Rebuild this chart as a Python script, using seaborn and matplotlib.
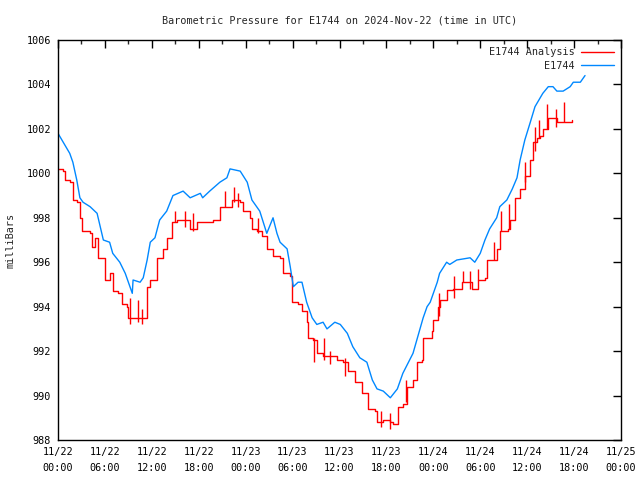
import pandas as pd
import matplotlib
matplotlib.use("Agg")
import matplotlib.pyplot as plt
import seaborn as sns

# hours since 2024-11-22 00:00 UTC
obs_hours = [0.0, 1.5, 1.9, 2.4, 2.8, 3.2, 4.1, 5.0, 5.4, 5.8, 6.6, 7.0, 7.9, 8.6, 9.0, 9.5,
             9.6, 10.5, 10.9, 11.4, 11.8, 12.4, 13.0, 13.9, 14.7, 16.0, 16.9, 18.2, 18.5, 19.4,
             20.7, 21.6, 22.0, 23.3, 24.2, 24.8, 25.8, 26.7, 27.5, 28.0, 28.4, 29.3, 29.7, 30.1,
             30.7, 31.2, 31.8, 32.5, 33.1, 33.9, 34.4, 35.4, 36.1, 37.0, 37.7, 38.6, 39.5, 40.2,
             40.8, 41.6, 42.5, 43.4, 44.1, 45.4, 46.7, 47.2, 47.6, 48.5, 48.8, 49.7, 50.1, 51.0,
             52.7, 53.3, 54.0, 54.6, 55.2, 56.1, 56.5, 57.4, 58.1, 58.7, 59.1, 59.7, 60.4, 61.0,
             62.0, 62.7, 63.3, 63.8, 64.6, 65.5, 65.9, 66.8, 67.4]
obs_mb = [1001.8, 1000.9, 1000.5, 999.7, 998.9, 998.7, 998.5, 998.2, 997.6, 997.0, 996.9, 996.4,
          996.0, 995.5, 995.1, 994.6, 995.2, 995.1, 995.3, 996.1, 996.9, 997.1, 997.9, 998.3,
          999.0, 999.2, 998.9, 999.1, 998.9, 999.2, 999.6, 999.8, 1000.2, 1000.1, 999.6, 998.8,
          998.3, 997.3, 998.0, 997.3, 996.9, 996.6, 995.8, 994.9, 995.1, 995.1, 994.2, 993.5,
          993.2, 993.3, 993.0, 993.3, 993.2, 992.8, 992.2, 991.7, 991.5, 990.7, 990.3, 990.2,
          989.9, 990.3, 991.0, 991.9, 993.5, 994.0, 994.2, 995.1, 995.5, 996.0, 995.9, 996.1,
          996.2, 996.0, 996.4, 997.0, 997.5, 998.0, 998.5, 998.8, 999.3, 999.8, 1000.6, 1001.5,
          1002.3, 1003.0, 1003.6, 1003.9, 1003.9, 1003.7, 1003.7, 1003.9, 1004.1, 1004.1, 1004.4]

ana_hours = [0.0, 0.6, 0.9, 1.5, 1.9, 2.4, 2.8, 3.1, 4.1, 4.3, 4.7, 5.1, 5.6, 6.0, 6.6, 7.0,
             7.7, 8.2, 8.8, 9.0, 10.1, 10.5, 11.4, 11.8, 12.7, 13.4, 13.9, 14.6, 15.2, 16.0,
             16.9, 17.8, 19.1, 19.8, 20.7, 21.6, 22.3, 23.3, 23.7, 24.6, 24.8, 25.4, 26.1, 26.7,
             27.5, 28.4, 28.8, 29.7, 29.9, 30.7, 31.2, 31.8, 32.0, 32.6, 33.1, 33.9, 34.8, 35.7,
             36.4, 37.1, 38.0, 38.9, 39.6, 40.5, 40.8, 41.6, 42.5, 42.8, 43.5, 44.1, 44.6, 45.4,
             45.9, 46.5, 46.7, 47.8, 48.0, 48.6, 48.8, 49.7, 50.5, 51.7, 52.9, 53.7, 54.6, 54.9,
             55.6, 56.1, 56.5, 57.5, 57.8, 58.4, 59.1, 59.7, 60.4, 60.7, 61.3, 61.6, 62.0, 62.7,
             63.3, 63.8, 65.1, 65.7]
ana_mb = [1000.2, 1000.1, 999.7, 999.6, 998.8, 998.7, 998.0, 997.4, 997.3, 996.7, 997.1, 996.2,
          996.2, 995.2, 995.5, 994.7, 994.6, 994.1, 994.0, 993.5, 993.5, 993.5, 994.9, 995.2,
          996.2, 996.6, 997.1, 997.8, 997.9, 997.9, 997.5, 997.8, 997.8, 997.9, 998.5, 998.5,
          998.8, 998.7, 998.3, 998.0, 997.5, 997.4, 997.2, 996.6, 996.3, 996.2, 995.5, 995.4,
          994.2, 994.1, 993.8, 993.3, 992.6, 992.5, 991.9, 991.8, 991.8, 991.6, 991.5, 991.1,
          990.6, 990.1, 989.4, 989.3, 988.8, 988.9, 988.8, 988.7, 989.5, 989.6, 990.4, 990.7,
          991.5, 991.6, 992.6, 992.9, 993.4, 994.0, 994.3, 994.75, 994.8, 995.1, 994.8, 995.2,
          995.3, 996.1, 996.1, 996.6, 997.4, 997.5, 997.9, 998.9, 999.3, 999.9, 1000.6, 1001.4,
          1001.6, 1001.7, 1002.0, 1002.5, 1002.5, 1002.3, 1002.3, 1002.4]

# short spikes in the analysis trace
spike_hours = [9.2, 10.2, 10.7, 14.9, 16.3, 17.3, 21.4, 22.5, 23.0, 25.6, 32.8, 34.0, 34.8, 36.7,
               41.3, 42.4, 44.5, 48.7, 50.6, 51.8, 52.7, 53.7, 55.8, 56.7, 57.7, 59.7, 61.0,
               61.5, 62.6, 63.7, 64.7]
spike_lo = [993.2, 993.3, 993.2, 997.8, 997.6, 997.4, 998.5, 998.7, 998.5, 997.3, 991.5, 991.6,
            991.4, 990.9, 988.6, 988.5, 989.7, 993.6, 994.4, 995.1, 994.8, 995.2, 996.1, 997.4,
            997.5, 999.6, 1001.0, 1001.6, 1002.0, 1002.1, 1002.3]
spike_hi = [994.4, 994.3, 993.9, 998.3, 998.3, 998.2, 999.2, 999.4, 999.1, 998.0, 992.6, 992.6,
            992.0, 991.7, 989.3, 989.2, 990.7, 994.6, 995.4, 995.6, 995.6, 995.7, 996.9, 998.3,
            998.6, 1000.5, 1002.1, 1002.4, 1003.1, 1002.9, 1003.2]

tick_hours = list(range(0, 73, 6))
tick_labels = ["11/22\n00:00", "11/22\n06:00", "11/22\n12:00", "11/22\n18:00",
               "11/23\n00:00", "11/23\n06:00", "11/23\n12:00", "11/23\n18:00",
               "11/24\n00:00", "11/24\n06:00", "11/24\n12:00", "11/24\n18:00",
               "11/25\n00:00"]

obs = pd.DataFrame({"hour": obs_hours, "mb": obs_mb})
ana = pd.DataFrame({"hour": ana_hours, "mb": ana_mb})

sns.set_style("white")
plt.rcParams["font.family"] = ["DejaVu Sans Mono"]
plt.rcParams["font.size"] = 7.3

fig = plt.figure(figsize=(6.4, 4.8), dpi=100)
ax = fig.add_axes([58 / 640, 40 / 480, 563 / 640, 400 / 480])

red = "#ff0000"
blue = "#0088ff"
sns.lineplot(data=ana, x="hour", y="mb", ax=ax, color=red, lw=1.0,
             drawstyle="steps-post", estimator=None, label="E1744 Analysis")
ax.vlines(spike_hours, spike_lo, spike_hi, color=red, lw=1.0)
sns.lineplot(data=obs, x="hour", y="mb", ax=ax, color=blue, lw=1.0,
             estimator=None, label="E1744")

ax.set_xlim(0, 72)
ax.set_ylim(988, 1006)
ax.set_xticks(tick_hours)
ax.set_xticklabels(tick_labels, linespacing=1.8)
ax.set_xticks(range(3, 72, 6), minor=True)
ax.set_yticks(range(988, 1007, 2))
ax.tick_params(direction="in", top=True, right=True, length=6, width=1, colors="black", pad=5,
               labelsize=7.3)
ax.tick_params(which="minor", direction="in", top=True, length=3, width=1)
for s in ax.spines.values():
    s.set_color("black")
    s.set_linewidth(1)
ax.set_xlabel("")
ax.set_ylabel("milliBars", labelpad=8, fontsize=7.3)
ax.set_title("Barometric Pressure for E1744 on 2024-Nov-22 (time in UTC)", pad=12, fontsize=7.3)
ax.legend(loc="upper right", frameon=False, markerfirst=False, handlelength=3.2,
          borderaxespad=0.3, labelspacing=0.35, handletextpad=0.7, fontsize=7.3)

plt.savefig("out.png", dpi=100)
